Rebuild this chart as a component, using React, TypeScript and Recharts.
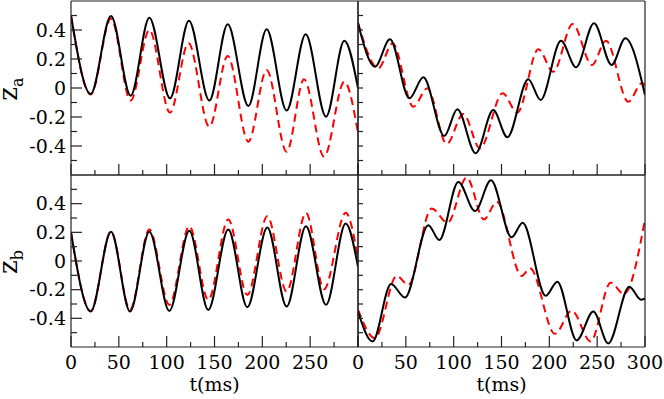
import React from "react";
import { LineChart, Line, XAxis, YAxis } from "recharts";

// tick values
const X_TICKS = [0, 25, 50, 75, 100, 125, 150, 175, 200, 225, 250, 275, 300];
const X_LABELS_LEFT = [0, 50, 100, 150, 200, 250];
const X_LABELS_RIGHT = [0, 50, 100, 150, 200, 250, 300];
const Y_LABELS = [-0.4, -0.2, 0, 0.2, 0.4];
const Y_TICKS = [-0.5, -0.4, -0.3, -0.2, -0.1, 0, 0.1, 0.2, 0.3, 0.4, 0.5];

// z_a, left column
const ZA_L_SOLID_T = [0, 20.6, 41.8, 62.4, 81.9, 103.5, 123.3, 144.6, 163.8, 185.4, 204.5, 225.4, 245.3, 266.6, 285.7, 300];
const ZA_L_SOLID = [0.5, -0.041, 0.497, -0.053, 0.485, -0.071, 0.464, -0.087, 0.439, -0.124, 0.405, -0.156, 0.37, -0.198, 0.326, -0.002];
const ZA_L_DASH_T = [0, 20.6, 41.8, 62.4, 81.9, 103.5, 122.8, 144.6, 163.8, 185.4, 204.5, 225.4, 243.6, 264.5, 285.7, 300];
const ZA_L_DASH = [0.5, -0.045, 0.48, -0.087, 0.4, -0.17, 0.31, -0.267, 0.221, -0.37, 0.124, -0.44, 0.06, -0.474, 0.043, -0.31];

// z_a, right column
const ZA_R_SOLID_T = [0, 17.8, 33.4, 53.7, 68.3, 90.2, 103.8, 123, 141.4, 156.1, 178, 190.9, 212.2, 227.9, 246.7, 265.1, 279.4, 300];
const ZA_R_SOLID = [0.446, 0.147, 0.336, -0.071, 0.074, -0.331, -0.147, -0.45, -0.152, -0.34, 0.06, -0.083, 0.326, 0.143, 0.446, 0.159, 0.343, -0.048];
const ZA_R_DASH_T = [0, 21.3, 36.2, 57.8, 72.5, 92.7, 110.1, 127.5, 151.2, 166.5, 188.5, 204.1, 224.4, 244.6, 259.2, 282.5, 297, 300];
const ZA_R_DASH = [0.45, 0.136, 0.308, -0.129, -0.002, -0.386, -0.179, -0.416, -0.037, -0.17, 0.267, 0.112, 0.441, 0.159, 0.326, -0.094, 0.035, 0.02];

// z_b, left column
const ZB_L_SOLID_T = [0, 20.6, 41.8, 61.7, 81.9, 102.8, 123.7, 143.5, 164.4, 184.3, 205.2, 225.4, 245.6, 266.6, 287.1, 300];
const ZB_L_SOLID = [0.2, -0.352, 0.204, -0.352, 0.204, -0.348, 0.211, -0.341, 0.22, -0.322, 0.234, -0.318, 0.243, -0.306, 0.262, -0.04];
const ZB_L_DASH_T = [0, 20.6, 41.8, 61.7, 81.9, 102.8, 123.7, 143.5, 164.4, 184.3, 205.2, 225.4, 245.6, 264.5, 287.1, 300];
const ZB_L_DASH = [0.2, -0.35, 0.205, -0.34, 0.22, -0.306, 0.243, -0.271, 0.29, -0.237, 0.313, -0.213, 0.336, -0.197, 0.336, 0.02];

// z_b, right column
const ZB_R_SOLID_T = [0, 15.3, 34.5, 49.1, 73.5, 85, 104.9, 122.3, 139, 160.6, 172.1, 196.2, 208.3, 228.6, 246, 261.6, 283.6, 296, 300];
const ZB_R_SOLID = [-0.352, -0.561, -0.16, -0.255, 0.25, 0.146, 0.552, 0.348, 0.563, 0.165, 0.267, -0.243, -0.144, -0.554, -0.352, -0.575, -0.179, -0.27, -0.26];
const ZB_R_DASH_T = [0, 17.8, 40.4, 52.6, 77, 93.7, 113.6, 131.7, 145, 171.1, 179.8, 205.9, 223.4, 243.2, 264.1, 278, 300];
const ZB_R_DASH = [-0.34, -0.538, -0.104, -0.167, 0.366, 0.267, 0.582, 0.29, 0.413, -0.104, -0.051, -0.508, -0.346, -0.561, -0.151, -0.23, 0.29];

const FONT = "DejaVu Serif";
const INK = "#222";
const FRAME = { stroke: INK, strokeWidth: 1.2 };
const FS = 19;

const pts = (ts: number[], vs: number[]) => ts.map((t, i) => ({ t, v: vs[i] }));
const fmtY = (v: number) => (v === 0 ? "0" : v.toFixed(1));

// bottom axis tick: inward mark plus optional label
function XTick({ x, y, payload, labels }: any) {
  const v = payload.value;
  const len = v % 50 === 0 ? 11 : 5;
  return (
    <g>
      <line x1={x} x2={x} y1={y} y2={y - len} stroke={INK} strokeWidth={1.2} />
      {labels && labels.includes(v) ? (
        <text x={x} y={y + 9} dy="0.71em" textAnchor="middle" fontFamily={FONT} fontSize={FS} fill="#000">
          {v}
        </text>
      ) : null}
    </g>
  );
}

// left axis tick: inward mark plus optional label
function YTick({ x, y, payload, withLabels }: any) {
  const v = payload.value;
  const major = Math.round(v * 10) % 2 === 0;
  const len = withLabels ? (major ? 11 : 6) : 5;
  return (
    <g>
      <line x1={x} x2={x + len} y1={y} y2={y} stroke={INK} strokeWidth={1.2} />
      {withLabels && Y_LABELS.includes(v) ? (
        <text x={x - 5} y={y} dy="0.355em" textAnchor="end" fontFamily={FONT} fontSize={FS} fill="#000">
          {fmtY(v)}
        </text>
      ) : null}
    </g>
  );
}

function ZLabel({ viewBox, sub }: any) {
  const cx = viewBox.x + 17;
  const cy = viewBox.y + viewBox.height / 2 + 1;
  return (
    <text x={cx} y={cy} transform={`rotate(-90, ${cx}, ${cy})`} textAnchor="middle" fontFamily={FONT} fontSize={26} fill="#000">
      z
      <tspan dy={6} fontSize={16}>
        {sub}
      </tspan>
    </text>
  );
}

type PanelProps = {
  left: number;
  top: number;
  width: number;
  height: number;
  margin: { top: number; right: number; bottom: number; left: number };
  solid: { t: number; v: number }[];
  dashed: { t: number; v: number }[];
  leftCol: boolean;
  bottomRow: boolean;
  sub: string;
};

function Panel({ left, top, width, height, margin, solid, dashed, leftCol, bottomRow, sub }: PanelProps) {
  const xLabels = bottomRow ? (leftCol ? X_LABELS_LEFT : X_LABELS_RIGHT) : null;
  return (
    <div style={{ position: "absolute", left, top, width, height }}>
      <LineChart width={width} height={height} margin={margin}>
        <XAxis
          xAxisId="b"
          dataKey="t"
          type="number"
          domain={[0, 300]}
          allowDataOverflow
          ticks={X_TICKS}
          interval={0}
          tick={<XTick labels={xLabels} />}
          tickLine={false}
          tickSize={0}
          tickMargin={0}
          axisLine={FRAME}
          height={bottomRow ? 52 : 1}
          label={
            bottomRow
              ? { value: "t(ms)", position: "insideBottom", offset: 8, style: { fill: "#000", fontSize: 19, fontFamily: FONT, textAnchor: "middle" } }
              : undefined
          }
        />
        <XAxis xAxisId="top" orientation="top" type="number" domain={[0, 300]} allowDataOverflow height={1}
          tick={() => <g />} tickLine={false} axisLine={FRAME} />
        <YAxis
          yAxisId="l"
          type="number"
          domain={[-0.6, 0.6]}
          allowDataOverflow
          ticks={Y_TICKS}
          interval={0}
          tick={<YTick withLabels={leftCol} />}
          tickLine={false}
          tickSize={0}
          tickMargin={0}
          axisLine={FRAME}
          width={leftCol ? 71 : 1}
          label={leftCol ? { content: (p: any) => <ZLabel viewBox={p.viewBox} sub={sub} /> } : undefined}
        />
        <YAxis yAxisId="r" orientation="right" type="number" domain={[-0.6, 0.6]} allowDataOverflow width={1}
          tick={() => <g />} tickLine={false} axisLine={FRAME} />
        <Line xAxisId="b" yAxisId="l" data={dashed} dataKey="v" type="monotone" stroke="#ff0000" strokeWidth={2}
          strokeDasharray="8 5" dot={false} isAnimationActive={false} />
        <Line xAxisId="b" yAxisId="l" data={solid} dataKey="v" type="monotone" stroke="#000" strokeWidth={2}
          dot={false} isAnimationActive={false} />
      </LineChart>
    </div>
  );
}

export default function App() {
  return (
    <div style={{ position: "absolute", left: 0, top: 0, width: 664, height: 399, background: "#fff" }}>
      <Panel left={0} top={0} width={359} height={176} margin={{ top: 0, right: 0, bottom: 0, left: 0 }}
        solid={pts(ZA_L_SOLID_T, ZA_L_SOLID)} dashed={pts(ZA_L_DASH_T, ZA_L_DASH)} leftCol bottomRow={false} sub="a" />
      <Panel left={330} top={0} width={334} height={176} margin={{ top: 0, right: 18, bottom: 0, left: 27 }}
        solid={pts(ZA_R_SOLID_T, ZA_R_SOLID)} dashed={pts(ZA_R_DASH_T, ZA_R_DASH)} leftCol={false} bottomRow={false} sub="a" />
      <Panel left={0} top={174} width={359} height={225} margin={{ top: 0, right: 0, bottom: 0, left: 0 }}
        solid={pts(ZB_L_SOLID_T, ZB_L_SOLID)} dashed={pts(ZB_L_DASH_T, ZB_L_DASH)} leftCol bottomRow sub="b" />
      <Panel left={330} top={174} width={334} height={225} margin={{ top: 0, right: 18, bottom: 0, left: 27 }}
        solid={pts(ZB_R_SOLID_T, ZB_R_SOLID)} dashed={pts(ZB_R_DASH_T, ZB_R_DASH)} leftCol={false} bottomRow sub="b" />
    </div>
  );
}
